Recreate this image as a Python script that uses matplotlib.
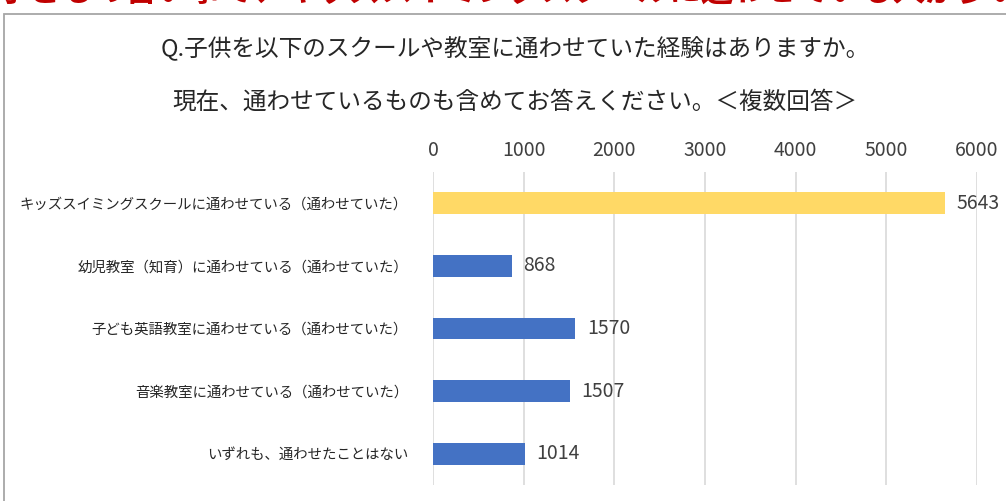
import matplotlib
matplotlib.use("Agg")
import matplotlib.pyplot as plt
from matplotlib.patches import Rectangle

plt.rcParams['font.family'] = ['Noto Sans CJK JP', 'DejaVu Sans']

categories = [
    "キッズスイミングスクールに通わせている（通わせていた）",
    "幼児教室（知育）に通わせている（通わせていた）",
    "子ども英語教室に通わせている（通わせていた）",
    "音楽教室に通わせている（通わせていた）",
    "いずれも、通わせたことはない",
]
values = [5643, 868, 1570, 1507, 1014]
colors = ["#FFD966", "#4472C4", "#4472C4", "#4472C4", "#4472C4"]
xticks = [0, 1000, 2000, 3000, 4000, 5000, 6000]
title_lines = ["Q.子供を以下のスクールや教室に通わせていた経験はありますか。",
               "現在、通わせているものも含めてお答えください。＜複数回答＞"]
headline = "子どもの習い事で、キッズスイミングスクールに通わせている人が多い結果に"

W, H = 1006, 501
fig = plt.figure(figsize=(W / 100, H / 100), dpi=100)
fig.patch.set_facecolor("white")

# red headline, cut off at the top edge as in the reference
fig.text(-2 / W, 1 - 1 / H, headline, color="#C00000", fontsize=23,
         fontweight="bold", ha="left", va="baseline")

# chart border
fig.patches.append(Rectangle((4 / W, -0.2), 1.2, 1.2 - 14 / H,
                             transform=fig.transFigure, fill=False,
                             edgecolor="#A6A6A6", linewidth=1.3))

fig.text(515 / W, 1 - 49 / H, title_lines[0], ha="center", va="center",
         fontsize=17, color="#262626")
fig.text(515 / W, 1 - 102 / H, title_lines[1], ha="center", va="center",
         fontsize=17, color="#262626")

ax = fig.add_axes([433 / W, 1 - 485 / H, (977 - 433) / W, (485 - 172) / H])
ypos = list(range(len(categories)))
ax.barh(ypos, values, height=0.35, color=colors, zorder=3)
ax.set_ylim(len(categories) - 0.5, -0.5)
ax.set_xlim(0, 6000)
ax.set_xticks(xticks)
ax.set_xticklabels([str(t) for t in xticks], fontsize=14, color="#404040")
ax.xaxis.tick_top()
ax.tick_params(axis="x", length=0, pad=8)
ax.set_yticks(ypos)
ax.set_yticklabels(categories, fontsize=10.4, color="#262626")
ax.tick_params(axis="y", length=0, pad=18)
ax.grid(axis="x", color="#D9D9D9", linewidth=1.2, zorder=0)
for s in ax.spines.values():
    s.set_visible(False)
ax.set_facecolor("none")

for y, v in zip(ypos, values):
    ax.text(v + 130, y, str(v), va="center", ha="left", fontsize=14,
            color="#404040", zorder=4)

fig.savefig("out.png", dpi=100)
